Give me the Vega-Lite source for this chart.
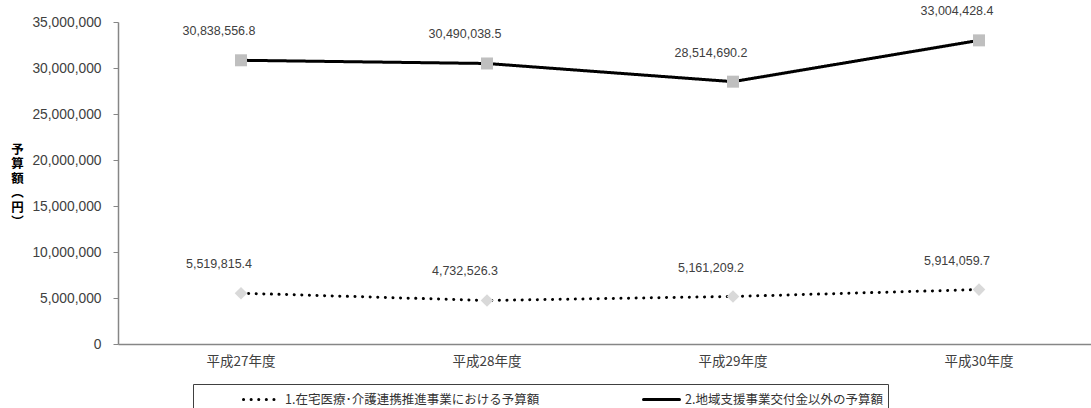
{
  "$schema": "https://vega.github.io/schema/vega-lite/v6.json",
  "width": 973,
  "height": 322,
  "autosize": {"type": "none"},
  "padding": {"left": 118, "top": 22, "right": 0, "bottom": 64},
  "background": "white",
  "config": {"view": {"stroke": null}, "font": "Liberation Sans"},
  "data": {
    "values": [
      {"year": "平成27年度", "series": "1.在宅医療･介護連携推進事業における予算額", "value": 5519815.4},
      {"year": "平成28年度", "series": "1.在宅医療･介護連携推進事業における予算額", "value": 4732526.3},
      {"year": "平成29年度", "series": "1.在宅医療･介護連携推進事業における予算額", "value": 5161209.2},
      {"year": "平成30年度", "series": "1.在宅医療･介護連携推進事業における予算額", "value": 5914059.7},
      {"year": "平成27年度", "series": "2.地域支援事業交付金以外の予算額", "value": 30838556.8},
      {"year": "平成28年度", "series": "2.地域支援事業交付金以外の予算額", "value": 30490038.5},
      {"year": "平成29年度", "series": "2.地域支援事業交付金以外の予算額", "value": 28514690.2},
      {"year": "平成30年度", "series": "2.地域支援事業交付金以外の予算額", "value": 33004428.4}
    ]
  },
  "encoding": {
    "x": {
      "field": "year",
      "type": "ordinal",
      "sort": null,
      "scale": {"type": "band", "range": [0, 984], "paddingInner": 0, "paddingOuter": 0},
      "axis": {
        "title": null,
        "labelAngle": 0,
        "labelFont": "Noto Sans CJK JP",
        "labelFontSize": 13.5,
        "labelColor": "#404040",
        "labelPadding": 10,
        "ticks": false,
        "domainColor": "#868686",
        "domainWidth": 1.5,
        "grid": false
      }
    },
    "y": {
      "field": "value",
      "type": "quantitative",
      "scale": {"domain": [0, 35000000], "nice": false},
      "axis": {
        "values": [0, 5000000, 10000000, 15000000, 20000000, 25000000, 30000000, 35000000],
        "format": ",d",
        "grid": false,
        "labelFont": "Liberation Sans",
        "labelFontSize": 13.8,
        "labelColor": "#404040",
        "labelPadding": 12,
        "tickSize": 5,
        "tickColor": "#868686",
        "domainColor": "#868686",
        "domainWidth": 1.5,
        "title": ["予", "算", "額", "︵", "円", "︶"],
        "titleAngle": 0,
        "titleX": -101,
        "titleY": 121,
        "titleAlign": "center",
        "titleBaseline": "top",
        "titleFont": "Noto Sans CJK JP",
        "titleFontSize": 12.5,
        "titleFontWeight": "bold",
        "titleLineHeight": 14.5,
        "titleColor": "#000000"
      }
    }
  },
  "layer": [
    {
      "mark": {"type": "line", "strokeWidth": 3, "color": "black", "strokeCap": "round"},
      "encoding": {
        "strokeDash": {
          "field": "series",
          "type": "nominal",
          "scale": {
            "domain": ["1.在宅医療･介護連携推進事業における予算額", "2.地域支援事業交付金以外の予算額"],
            "range": [[0.1, 7.5], [1, 0]]
          },
          "legend": {
            "orient": "none",
            "legendX": 75,
            "legendY": 362,
            "direction": "horizontal",
            "title": "\u3000\u3000",
            "titleOrient": "right",
            "titlePadding": 0,
            "titleFontSize": 12.5,
            "titleFont": "Noto Sans CJK JP",
            "strokeColor": "#404040",
            "fillColor": "white",
            "padding": 5,
            "symbolType": "M-1,0L3,0",
            "symbolSize": 324,
            "symbolStrokeWidth": 3,
            "symbolStrokeColor": "black",
            "symbolOffset": 44,
            "labelFont": "Noto Sans CJK JP",
            "labelFontSize": 12.5,
            "labelColor": "#333333",
            "labelOffset": 22,
            "labelLimit": 400,
            "columnPadding": 58,
            "encode": {"symbols": {"update": {"strokeCap": {"value": "round"}}}}
          }
        }
      }
    },
    {
      "transform": [{"filter": "datum.series == '1.在宅医療･介護連携推進事業における予算額'"}],
      "mark": {"type": "point", "filled": true, "opacity": 1, "size": 160, "shape": "diamond", "color": "#d9d9d9"}
    },
    {
      "transform": [{"filter": "datum.series == '2.地域支援事業交付金以外の予算額'"}],
      "mark": {"type": "point", "filled": true, "opacity": 1, "size": 144, "shape": "square", "color": "#bfbfbf"}
    },
    {
      "mark": {"type": "text", "dx": -22, "dy": -29, "fontSize": 12.5, "font": "Liberation Sans", "color": "#404040"},
      "encoding": {
        "text": {"field": "value", "type": "quantitative", "format": ",.1f"}
      }
    }
  ]
}
